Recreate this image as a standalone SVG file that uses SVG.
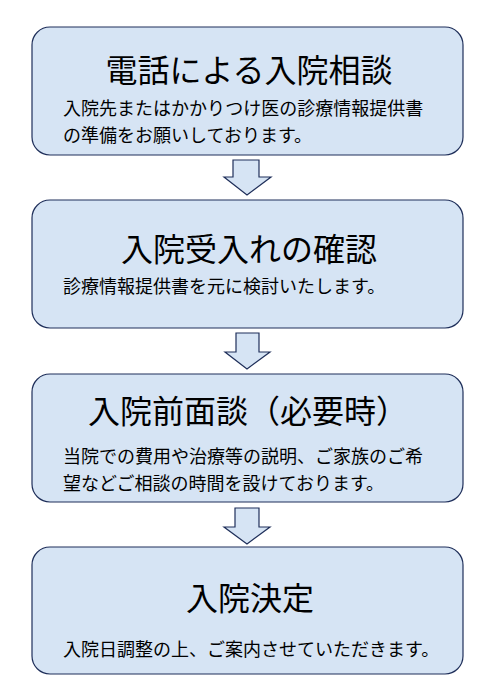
<svg xmlns="http://www.w3.org/2000/svg" width="495" height="700" viewBox="0 0 495 700">
<style>
.box{fill:#d6e4f4;stroke:#1f2f5a;stroke-width:1.2}
.arr{fill:#d6e4f4;stroke:#1f2f5a;stroke-width:1.2;stroke-linejoin:miter}
.title{font-family:"Noto Sans CJK JP","Noto Sans CJK SC",sans-serif;font-size:32px;fill:#000;text-anchor:middle}
.body{font-family:"Noto Sans CJK JP","Noto Sans CJK SC",sans-serif;font-size:18px;fill:#000}
</style>
<rect width="495" height="700" fill="#fff"/>
<g id="connectors">
<path class="arr" d="M233,160 L259,160 L259,177 L271,177 L247,195 L224,177 L233,177 Z"/>
<path class="arr" d="M236,333 L259,333 L259,352 L270,352 L247,369 L225,352 L236,352 Z"/>
<path class="arr" d="M235,508 L259,508 L259,527 L270,527 L247,544 L224,527 L235,527 Z"/>
</g>
<g id="node1">
<rect class="box" x="32" y="27" width="431" height="128" rx="18"/>
<text class="title" x="249" y="82">電話による入院相談</text>
<text class="body" x="63" y="115">入院先またはかかりつけ医の診療情報提供書</text>
<text class="body" x="63" y="142">の準備をお願いしております。</text>
</g>
<g id="node2">
<rect class="box" x="32" y="200" width="431" height="128" rx="18"/>
<text class="title" x="249" y="261">入院受入れの確認</text>
<text class="body" x="63" y="293">診療情報提供書を元に検討いたします。</text>
</g>
<g id="node3">
<rect class="box" x="32" y="374" width="431" height="128" rx="18"/>
<text class="title" x="88" y="423" style="text-anchor:start">入院前面談（必要時）</text>
<text class="body" x="63" y="463">当院での費用や治療等の説明、ご家族のご希</text>
<text class="body" x="63" y="490">望などご相談の時間を設けております。</text>
</g>
<g id="node4">
<rect class="box" x="32" y="547" width="431" height="127" rx="18"/>
<text class="title" x="250" y="610">入院決定</text>
<text class="body" x="63" y="656">入院日調整の上、ご案内させていただきます。</text>
</g>
</svg>
